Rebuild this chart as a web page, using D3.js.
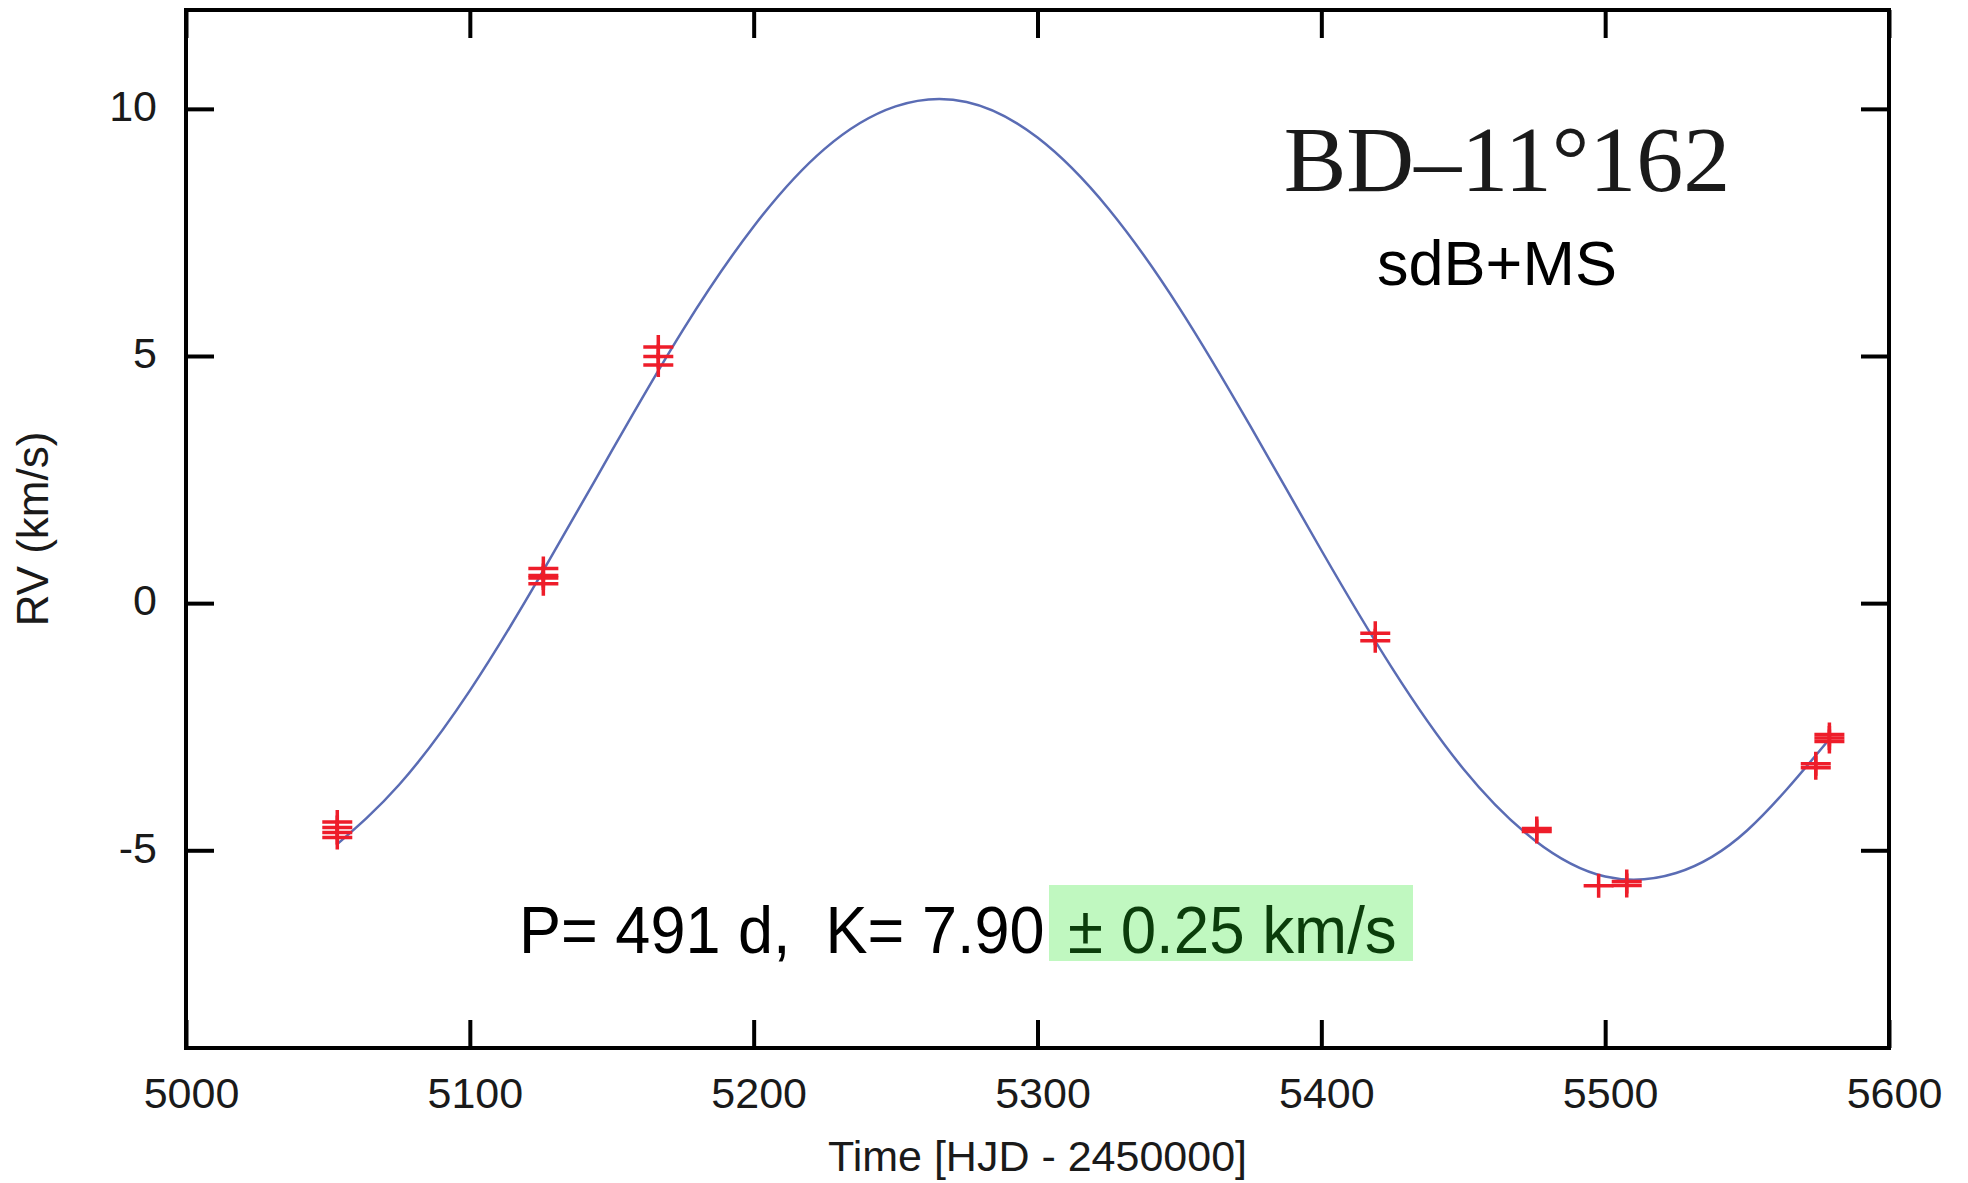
<!DOCTYPE html>
<html>
<head>
<meta charset="utf-8">
<script src="https://cdn.jsdelivr.net/npm/d3@7"></script>
<style>
  html, body { margin: 0; padding: 0; background: #fff; }
  svg { display: block; }
  text { font-family: "Liberation Sans", Arial, Helvetica, sans-serif; white-space: pre; }
</style>
</head>
<body>
<svg id="chart" width="1968" height="1183"></svg>
<script>
// ---- data ----
const xTicks = [5000, 5100, 5200, 5300, 5400, 5500, 5600];
const yTicks = [-5, 0, 5, 10];

// observed radial velocities (HJD - 2450000, km/s)
const obsTime = [5053.3, 5053.3, 5053.3, 5053.3,
                 5125.9, 5125.9, 5125.9, 5125.9,
                 5166.4, 5166.4, 5166.4,
                 5419.0, 5419.0,
                 5475.9, 5475.9,
                 5497.7,
                 5507.6, 5507.6,
                 5574.2, 5574.2,
                 5579.0, 5579.0, 5579.0];
const obsRV   = [-4.43, -4.54, -4.64, -4.74,
                 0.70, 0.56, 0.51, 0.39,
                 5.18, 4.99, 4.82,
                 -0.61, -0.76,
                 -4.56, -4.62,
                 -5.72,
                 -5.63, -5.71,
                 -3.25, -3.33,
                 -2.66, -2.73, -2.80];

// orbital fit curve
const fitTime = [5053, 5075, 5100, 5125, 5150, 5175, 5200, 5225, 5250, 5275,
                 5300, 5325, 5350, 5375, 5400, 5425, 5450, 5475, 5500,
                 5525, 5550, 5578];
const fitRV   = [-4.89, -3.68, -1.77, 0.57, 3.08, 5.52, 7.62, 9.19, 10.05, 10.14,
                 9.42, 7.98, 5.97, 3.58, 1.07, -1.32, -3.35, -4.79, -5.53,
                 -5.46, -4.60, -2.82];

const starName = "BD\u201311\u00b0162";
const starType = "sdB+MS";
const fitTextA = "P= 491 d,  K= 7.90";
const fitTextB = "\u00b1 0.25 km/s";
const xTitle = "Time [HJD - 2450000]";
const yTitle = "RV (km/s)";

// ---- layout ----
const L = 186, R = 1889, T = 10, B = 1048;
const svg = d3.select("#chart");
const x = d3.scaleLinear().domain([5000, 5600]).range([L, R]);
const y = d3.scaleLinear().domain([-9, 12]).range([B, T]);

const tickLen = 28;
const fs = 43;
const fmt = d => String(d);

function styleAxis(g) {
  g.select(".domain").remove();
  g.selectAll(".tick line").attr("stroke", "#000").attr("stroke-width", 4);
  g.selectAll(".tick text").attr("fill", "#1a1a1a").style("font-size", fs + "px")
    .style("font-family", "'Liberation Sans', Arial, Helvetica, sans-serif");
}

svg.append("g").attr("transform", `translate(0,${B})`)
  .call(d3.axisBottom(x).tickValues(xTicks).tickSizeInner(-tickLen).tickSizeOuter(0).tickPadding(29).tickFormat(fmt))
  .call(styleAxis)
  .call(g => g.selectAll(".tick text").attr("dx", 5));

svg.append("g").attr("transform", `translate(0,${T})`)
  .call(d3.axisTop(x).tickValues(xTicks).tickSizeInner(-tickLen).tickSizeOuter(0).tickFormat(""))
  .call(styleAxis);

svg.append("g").attr("transform", `translate(${L},0)`)
  .call(d3.axisLeft(y).tickValues(yTicks).tickSizeInner(-tickLen).tickSizeOuter(0).tickPadding(29).tickFormat(fmt))
  .call(styleAxis)
  .call(g => g.selectAll(".tick text").attr("dy", "0.32em").attr("y", -2));

svg.append("g").attr("transform", `translate(${R},0)`)
  .call(d3.axisRight(y).tickValues(yTicks).tickSizeInner(-tickLen).tickSizeOuter(0).tickFormat(""))
  .call(styleAxis);

// frame
svg.append("rect").attr("x", L).attr("y", T).attr("width", R - L).attr("height", B - T)
  .attr("fill", "none").attr("stroke", "#000").attr("stroke-width", 4);

// fit curve
const fitData = fitTime.map((t, i) => [t, fitRV[i]]);
svg.append("path").datum(fitData)
  .attr("d", d3.line().x(d => x(d[0])).y(d => y(d[1])).curve(d3.curveNatural))
  .attr("fill", "none").attr("stroke", "#5a6cb4").attr("stroke-width", 2.5);

// observations: plus markers
const hw = 15, hh = 12;
const obs = obsTime.map((t, i) => [t, obsRV[i]]);
const pts = svg.append("g").attr("stroke", "#ee1d2a").attr("stroke-width", 3.5).attr("fill", "none");
pts.selectAll("path").data(obs).enter().append("path")
  .attr("d", d => {
    const cx = x(d[0]), cy = y(d[1]);
    return `M${cx - hw},${cy}H${cx + hw}M${cx},${cy - hh}V${cy + hh}`;
  });

// star label
svg.append("text").attr("x", 1507).attr("y", 191).attr("text-anchor", "middle")
  .style("font-family", "'Liberation Serif', 'Times New Roman', serif").style("font-size", "94px")
  .attr("fill", "#1a1a1a").text(starName);
svg.append("text").attr("x", 1497).attr("y", 285).attr("text-anchor", "middle")
  .style("font-size", "63px").attr("fill", "#000").text(starType);

// fit annotation
svg.append("rect").attr("x", 1049).attr("y", 885).attr("width", 364).attr("height", 76)
  .attr("fill", "#c0f8c0");
svg.append("text").attr("transform", "translate(519,953) scale(0.955,1)")
  .style("font-size", "66px").attr("fill", "#000").text(fitTextA);
svg.append("text").attr("transform", "translate(1068,953) scale(0.965,1)")
  .style("font-size", "66px").attr("fill", "#0b3d0b").text(fitTextB);

// axis titles
svg.append("text").attr("x", (L + R) / 2).attr("y", 1171).attr("text-anchor", "middle")
  .style("font-size", "43px").attr("fill", "#1a1a1a").text(xTitle);
svg.append("text").attr("transform", `translate(48,${(T + B) / 2}) rotate(-90)`).attr("text-anchor", "middle")
  .style("font-size", "44px").attr("fill", "#1a1a1a").text(yTitle);
</script>
</body>
</html>
